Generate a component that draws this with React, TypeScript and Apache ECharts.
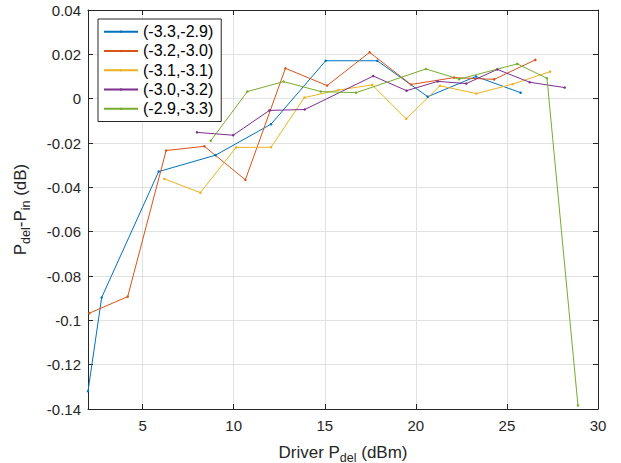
import React, { useEffect, useRef } from "react";
import * as echarts from "echarts";

const seriesNames = ["(-3.3,-2.9)", "(-3.2,-3.0)", "(-3.1,-3.1)", "(-3.0,-3.2)", "(-2.9,-3.3)"];
const seriesColors = ["#0072BD", "#D95319", "#EDB120", "#7E2F8E", "#77AC30"];

const blueData = [
  [2.0, -0.132], [2.75, -0.0897], [5.88, -0.0329], [9.0, -0.0255], [12.05, -0.0115],
  [15.05, 0.0171], [17.88, 0.0171], [20.65, 0.0009], [23.3, 0.01], [25.75, 0.0027],
];
const redData = [
  [2.07, -0.0968], [4.18, -0.0893], [6.29, -0.0234], [8.39, -0.0215], [10.64, -0.0366],
  [12.84, 0.0137], [15.13, 0.0059], [17.46, 0.0209], [19.73, 0.0064], [22.1, 0.0095],
  [24.3, 0.0087], [26.56, 0.0175],
];
const yellowData = [
  [6.19, -0.0362], [8.17, -0.0424], [10.13, -0.022], [12.05, -0.0219], [13.88, 0.0005],
  [15.75, 0.0039], [17.6, 0.0062], [19.47, -0.0091], [21.32, 0.0058], [23.32, 0.0023],
  [25.3, 0.0065], [27.37, 0.0122],
];
const purpleData = [
  [7.98, -0.0152], [9.97, -0.0165], [11.96, -0.0053], [13.9, -0.0049], [17.66, 0.0102],
  [19.49, 0.0036], [21.2, 0.0078], [22.77, 0.0068], [24.47, 0.0132], [26.25, 0.0074],
  [28.17, 0.005],
];
const greenData = [
  [8.74, -0.019], [10.75, 0.0032], [12.74, 0.0077], [14.78, 0.0032], [16.72, 0.0027],
  [20.55, 0.0134], [22.38, 0.0088], [25.57, 0.0157], [27.2, 0.0092], [28.9, -0.1384],
];
const allData = [blueData, redData, yellowData, purpleData, greenData];

const xMin = 2;
const xMax = 30;
const yMin = -0.14;
const yMax = 0.04;
const yStep = 0.02;

const FONT = "'Liberation Sans', Arial, Helvetica, sans-serif";
const AXIS_COLOR = "#262626";
const GRID_COLOR = "#e2e2e2";

export default function App() {
  const ref = useRef<HTMLDivElement>(null);
  useEffect(() => {
    if (!ref.current) return;
    const chart = echarts.init(ref.current, null, { renderer: "svg" });
    const tickCommon = { show: true, inside: true, length: 5, lineStyle: { color: AXIS_COLOR, width: 1 } };
    const lineCommon = { show: true, onZero: false, lineStyle: { color: AXIS_COLOR, width: 1 } };
    const nameRich = {
      a: { fontSize: 17, color: AXIS_COLOR, fontFamily: FONT },
      s: { fontSize: 12.5, color: AXIS_COLOR, fontFamily: FONT, padding: [11, 0, 0, 0] },
    };
    chart.setOption({
      animation: false,
      backgroundColor: "#ffffff",
      textStyle: { fontFamily: FONT },
      grid: { left: 88, right: 23, top: 10, bottom: 54, containLabel: false, outerBoundsMode: "none" },
      legend: {
        data: seriesNames,
        orient: "vertical",
        left: 98,
        top: 19,
        itemWidth: 34,
        itemHeight: 3,
        itemGap: 2,
        padding: [4, 8, 4, 5],
        borderColor: AXIS_COLOR,
        borderWidth: 1,
        backgroundColor: "#ffffff",
        textStyle: { fontSize: 16, color: "#000000", fontFamily: FONT, lineHeight: 17.3 },
      },
      xAxis: [
        {
          type: "value",
          min: xMin,
          max: xMax,
          position: "bottom",
          axisLine: lineCommon,
          axisTick: tickCommon,
          splitLine: { show: true, lineStyle: { color: GRID_COLOR, width: 1 } },
          axisLabel: { showMinLabel: false, color: AXIS_COLOR, fontSize: 15, margin: 9, fontFamily: FONT },
          name: "{a|Driver P}{s|del}{a| (dBm)}",
          nameLocation: "middle",
          nameGap: 31,
          nameTextStyle: { rich: nameRich },
        },
        {
          type: "value",
          min: xMin,
          max: xMax,
          position: "top",
          axisLine: lineCommon,
          axisTick: tickCommon,
          splitLine: { show: false },
          axisLabel: { show: false },
        },
      ],
      yAxis: [
        {
          type: "value",
          min: yMin,
          max: yMax,
          interval: yStep,
          position: "left",
          axisLine: lineCommon,
          axisTick: tickCommon,
          splitLine: { show: true, lineStyle: { color: GRID_COLOR, width: 1 } },
          axisLabel: {
            color: AXIS_COLOR,
            fontSize: 15,
            margin: 7,
            fontFamily: FONT,
            formatter: (v: number) => String(parseFloat(v.toFixed(2))),
          },
          name: "{a|P}{s|del}{a|-P}{s|in}{a| (dB)}",
          nameLocation: "middle",
          nameGap: 56,
          nameTextStyle: { rich: nameRich },
        },
        {
          type: "value",
          min: yMin,
          max: yMax,
          interval: yStep,
          position: "right",
          axisLine: lineCommon,
          axisTick: tickCommon,
          splitLine: { show: false },
          axisLabel: { show: false },
        },
      ],
      series: allData.map((d, i) => ({
        name: seriesNames[i],
        type: "line",
        xAxisIndex: 0,
        yAxisIndex: 0,
        data: d,
        color: seriesColors[i],
        symbol: "circle",
        symbolSize: 2.5,
        showSymbol: true,
        lineStyle: { width: 1, color: seriesColors[i] },
        itemStyle: { color: seriesColors[i] },
      })),
    });
    return () => chart.dispose();
  }, []);
  return <div ref={ref} style={{ position: "fixed", left: 0, top: 0, width: 621, height: 463 }} />;
}
